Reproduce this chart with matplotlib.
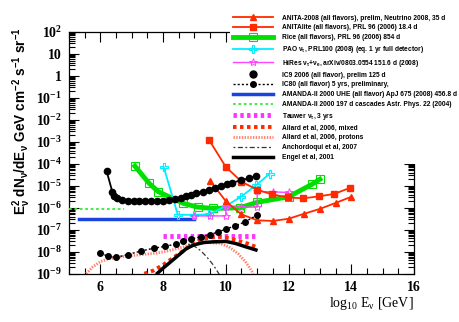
import numpy as np
import matplotlib
matplotlib.use("Agg")
import matplotlib.pyplot as plt
from matplotlib.ticker import MultipleLocator, LogLocator, FuncFormatter, NullFormatter

plt.rcParams['mathtext.default'] = 'regular'

# log10(E/GeV) and log10(flux)
anita08_x = [9.5, 10.0, 10.5, 11.0, 11.5, 12.0, 12.5, 13.0, 13.5, 14.0]
anita08_y = [-4.77, -5.7, -6.3, -6.57, -6.6, -6.5, -6.27, -6.05, -5.78, -5.5]

anitalite_x = [9.47, 10.0, 10.5, 11.0, 11.47, 11.98, 12.47, 12.97, 13.45, 13.95]
anitalite_y = [-2.92, -4.14, -4.81, -5.18, -5.39, -5.53, -5.57, -5.48, -5.37, -5.1]

rice_x = [7.1, 7.55, 7.85, 8.65, 9.1, 9.6, 10.45, 11.0, 12.0, 12.75, 13.0]
rice_y = [-4.1, -4.88, -5.27, -5.8, -5.97, -6.03, -6.0, -5.75, -5.5, -4.93, -4.7]

pao_x = [8.02, 8.47, 9.0, 9.47, 10.0, 10.48, 10.96, 11.4]
pao_y = [-4.15, -6.32, -6.32, -6.3, -5.92, -5.5, -4.98, -4.45]

hires_x = [9.0, 9.5, 10.0, 10.0, 10.5, 11.0, 11.0, 11.5, 12.0]
hires_y = [-6.37, -6.37, -6.37, -5.97, -5.97, -5.97, -5.25, -5.28, -5.3]

ic9_x = [6.2, 6.38, 6.45, 6.53, 6.69, 6.88, 7.06, 7.24, 7.42, 7.62, 7.82, 8.0, 8.18,
         8.37, 8.56, 8.74, 8.9, 9.06, 9.27, 9.46, 9.66, 9.85, 10.03, 10.21, 10.5,
         10.75, 10.96]
ic9_y = [-4.33, -5.27, -5.45, -5.57, -5.65, -5.69, -5.7, -5.7, -5.7, -5.69, -5.68,
         -5.67, -5.64, -5.6, -5.54, -5.48, -5.4, -5.33, -5.26, -5.18, -5.1, -5.02,
         -4.94, -4.86, -4.74, -4.65, -4.56]

ic80_x = [6.0, 6.25, 6.5, 6.87, 7.29, 7.7, 8.05, 8.4, 8.65, 8.9, 9.2, 9.5, 9.75,
          10.0, 10.3, 10.6, 11.0]
ic80_y = [-8.08, -8.2, -8.26, -8.13, -7.97, -7.84, -7.76, -7.65, -7.5, -7.42,
          -7.32, -7.22, -7.1, -6.97, -6.82, -6.65, -6.33]

amanda_uhe_x = [5.33, 8.98]
amanda_uhe_y = [-6.52, -6.52]

amanda_casc_x = [5.0, 6.74]
amanda_casc_y = [-6.04, -6.04]

tauwer_x = [8.0, 11.0]
tauwer_y = [-7.29, -7.29]

allard_mix_x = [7.4, 7.7, 8.0, 8.3, 8.6, 8.9, 9.2, 9.5, 9.8, 10.1, 10.4, 10.7, 10.96]
allard_mix_y = [-9.0, -8.85, -8.6, -8.3, -8.0, -7.7, -7.45, -7.35, -7.32, -7.38,
                -7.5, -7.63, -7.78]

allard_p_x = [5.55, 5.75, 6.0, 6.25, 6.6, 7.0, 7.4, 7.8, 8.2, 8.6, 9.0, 9.4, 9.8,
              10.1, 10.4, 10.65, 10.88]
allard_p_y = [-9.0, -8.7, -8.45, -8.33, -8.24, -8.18, -8.12, -8.06, -7.95, -7.8,
              -7.65, -7.58, -7.62, -7.78, -8.1, -8.5, -9.0]

anch_x = [8.8, 9.0, 9.2, 9.4, 9.6, 9.8]
anch_y = [-7.65, -7.75, -7.95, -8.25, -8.6, -9.05]

engel_x = [7.82, 8.0, 8.25, 8.5, 8.75, 9.0, 9.3, 9.6, 10.0, 10.3, 10.6, 10.96]
engel_y = [-8.98, -8.75, -8.45, -8.15, -7.85, -7.68, -7.58, -7.55, -7.53, -7.62,
           -7.76, -7.92]

RED = '#ff2a00'

fig = plt.figure(figsize=(4.6, 3.22), dpi=100)
ax = fig.add_axes([0.15, 0.15, 0.75, 0.7506])


def p(x, y, **kw):
    return ax.plot(x, 10.0 ** np.array(y), **kw)[0]


h = []
h.append(p(anita08_x, anita08_y, color=RED, lw=1.3, marker='^', ms=4.5, zorder=5))
h.append(p(anitalite_x, anitalite_y, color=RED, lw=1.3, marker='s', ms=5, zorder=5))
h.append(p(rice_x, rice_y, color='#00e000', lw=3.5, marker='s', ms=6, mfc='none',
           mew=0.8, zorder=4))
h.append(p(pao_x, pao_y, color='#00eeff', lw=1.3, marker='P', ms=6, mfc='none',
           mew=0.8, zorder=4))
h.append(p(hires_x, hires_y, color='#ff44ff', lw=1.0, marker='*', ms=6, mfc='none',
           mew=0.7, zorder=4))
h.append(p(ic9_x, ic9_y, color='black', lw=1.3, marker='o', ms=4.5, zorder=5))
h.append(p(ic80_x, ic80_y, color='black', lw=1.0, ls=(0, (1.5, 1.5)), marker='o',
           ms=4, zorder=5))
h.append(p(amanda_uhe_x, amanda_uhe_y, color='#1a44dd', lw=2.5, zorder=3))
h.append(p(amanda_casc_x, amanda_casc_y, color='#33ee33', lw=1.3, ls=(0, (1.5, 1.5)),
           zorder=3))
h.append(p(tauwer_x, tauwer_y, color='#ff33ff', lw=3.5, ls=(0, (0.7, 0.7)), zorder=3))
h.append(p(allard_mix_x, allard_mix_y, color=RED, lw=2.8, ls=(0, (0.9, 0.9)), zorder=3))
h.append(p(allard_p_x, allard_p_y, color='#ff7f6a', lw=2.0, ls=(0, (0.5, 0.5)), zorder=2))
h.append(p(anch_x, anch_y, color='#333333', lw=0.9, ls=(0, (1.5, 2.0, 4.0, 2.0)), zorder=3))
h.append(p(engel_x, engel_y, color='black', lw=2.5, zorder=4))

# IC9 legend shows only the marker
ic9_handle = plt.Line2D([], [], color='black', ls='none', marker='o', ms=5)
handles = h[:5] + [ic9_handle] + h[6:]

labels = [
    'ANITA-2008 (all flavors), prelim, Neutrino 2008, 35 d',
    'ANITAlite (all flavors), PRL 96 (2006) 18.4 d',
    'Rice (all flavors), PRL 96 (2006) 854 d',
    r'PAO $\nu_{\tau}$, PRL100 (2008) (eq. 1 yr full detector)',
    r'HiRes $\nu_{\tau}$+$\nu_{e}$, arXiv/0803.0554 151.6 d (2008)',
    'IC9 2006 (all flavor), prelim 125 d',
    'IC80 (all flavor) 5 yrs, preliminary,',
    'AMANDA-II 2000 UHE (all flavor) ApJ 675 (2008) 456.8 d',
    'AMANDA-II 2000 197 d cascades Astr. Phys. 22 (2004)',
    r'Tauwer $\nu_{\tau}$, 3 yrs',
    'Allard et al, 2006, mixed',
    'Allard et al, 2006, protons',
    'Anchordoqui et al, 2007',
    'Engel et al, 2001',
]

leg = fig.legend(handles, labels, loc='upper left', bbox_to_anchor=(0.5, 0.963),
                 frameon=True, facecolor='white', edgecolor='none', framealpha=1,
                 fancybox=False,
                 prop={'family': 'Liberation Sans', 'weight': 'bold', 'size': 4.8},
                 handlelength=6.0, handletextpad=1.45, labelspacing=0.42,
                 borderpad=0.4, borderaxespad=0, numpoints=1)

ax.set_yscale('log')
ax.set_xlim(5, 16)
ax.set_ylim(1e-9, 1e2)

ax.xaxis.set_major_locator(MultipleLocator(2))
ax.xaxis.set_minor_locator(MultipleLocator(0.5))
ax.yaxis.set_major_locator(LogLocator(base=10, numticks=20))
ax.yaxis.set_minor_locator(LogLocator(base=10, subs=np.arange(2, 10), numticks=20))
ax.yaxis.set_minor_formatter(NullFormatter())


def yfmt(v, pos):
    e = int(round(np.log10(v)))
    if e == 0:
        return '1'
    if e == 1:
        return '10'
    return '10$^{%d}$' % e


ax.yaxis.set_major_formatter(FuncFormatter(yfmt))
ax.tick_params(which='both', direction='in', top=True, right=True, width=0.8)
ax.tick_params(which='major', length=7, pad=5)
ax.tick_params(which='minor', length=4)
for lab in ax.get_xticklabels() + ax.get_yticklabels():
    lab.set_fontfamily('Liberation Serif')
    lab.set_fontweight('bold')
    lab.set_fontsize(10)
for s in ax.spines.values():
    s.set_linewidth(0.9)

ax.set_xlabel(r'log$_{10}$ E$_{\nu}$ [GeV]', family='Liberation Serif', fontsize=10,
              loc='right', labelpad=1)
ax.set_ylabel(r'E$_{\nu}^{2}$ dN$_{\nu}$/dE$_{\nu}$ GeV cm$^{-2}$ s$^{-1}$ sr$^{-1}$',
              family='Liberation Sans', weight='bold', fontsize=9.8)
ax.yaxis.set_label_coords(-0.105, 0.63)

fig.savefig('out.png', dpi=100)
